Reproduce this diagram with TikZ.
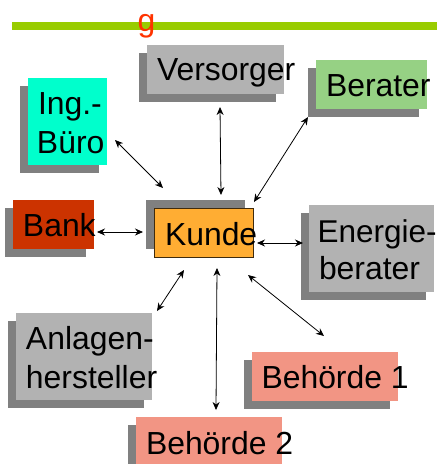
\documentclass[tikz,border=0pt]{standalone}
\usepackage{fontspec}
\setmainfont{Liberation Sans}
\usetikzlibrary{arrows.meta}
\definecolor{shadowgrey}{HTML}{808080}
\definecolor{boxgrey}{HTML}{B2B2B2}
\definecolor{ingcyan}{HTML}{00FFCC}
\definecolor{bankred}{HTML}{CC3300}
\definecolor{kundeorange}{HTML}{FFAD33}
\definecolor{beratergreen}{HTML}{96D184}
\definecolor{salmon}{HTML}{F29584}
\definecolor{barGreen}{HTML}{99CC00}
\definecolor{gred}{HTML}{FF3300}
\tikzset{
  x=1pt,y=-1pt,
  lbl/.style={anchor=base west,inner sep=0pt,outer sep=0pt,align=left,
    font=\fontsize{31.9}{38}\selectfont,text=black},
  link/.style={{Stealth[length=8pt,width=7pt]}-{Stealth[length=8pt,width=7pt]},line width=0.8pt,black},
}
\newcommand{\tbox}[6]{% name, x1, y1, x2, y2, colour
  \path[fill=shadowgrey] (#2-8,#3+8) rectangle (#4-8,#5+8);
  \path[fill=#6] (#2,#3) rectangle (#4,#5);
  \coordinate (#1) at (#2,#3);
}
\begin{document}
\begin{tikzpicture}
\useasboundingbox (0,0) rectangle (437,464);
\clip (0,0) rectangle (437,464);
% title bar
\path[fill=barGreen] (12,22) rectangle (437,30);
\node[lbl,text=gred] (g) at (137.5,31) {g};
% boxes
\tbox{versorger}{147}{45}{284}{94}{boxgrey}
\tbox{berater}{316}{60}{427}{109}{beratergreen}
\tbox{ing}{28}{78}{107}{165}{ingcyan}
\tbox{bank}{13}{200}{94}{249}{bankred}
\tbox{energie}{309}{205}{434}{292}{boxgrey}
\tbox{anlagen}{16}{313}{152}{400}{boxgrey}
\tbox{beh1}{252}{352}{398}{401}{salmon}
\tbox{beh2}{136}{417}{282}{466}{salmon}
% Kunde: shadow up-left, outlined front
\path[fill=shadowgrey] (146,200) rectangle (245,249);
\path[fill=kundeorange,draw=black!75!kundeorange,line width=0.7pt] (154.5,208.5) rectangle (253.5,257.5);
\coordinate (kunde) at (154,208);
% labels
\node[lbl] (tVersorger) at (157,80) {Versorger};
\node[lbl] (tBerater) at (326,96) {Berater};
\node[lbl] (tIng) at (38,114) {Ing.-};
\node[lbl] (tBuero) at (37,153) {Büro};
\node[lbl] (tBank) at (23,236) {Bank};
\node[lbl] (tKunde) at (165,245) {Kunde};
\node[lbl,font=\fontsize{31.5}{38}\selectfont] (tEnergie) at (317.5,242) {Energie-};
\node[lbl] (tBeraterTwo) at (319,279) {berater};
\node[lbl] (tAnlagen) at (26,349) {Anlagen-};
\node[lbl] (tHersteller) at (26,388) {hersteller};
\node[lbl] (tBehA) at (261.5,388) {Behörde 1};
\node[lbl] (tBehB) at (146,454) {Behörde 2};
% connector ends
\coordinate (ingEnd) at (115,140);
\coordinate (kIng) at (163,188);
\coordinate (versEnd) at (220,107);
\coordinate (kVers) at (221,195);
\coordinate (berEnd) at (308,117);
\coordinate (kBer) at (254,202);
\coordinate (bankEnd) at (97,232);
\coordinate (kBank) at (143,232);
\coordinate (kEn) at (257,243);
\coordinate (enEnd) at (303,243);
\coordinate (kAn) at (184,270);
\coordinate (anEnd) at (157,311);
\coordinate (kB2) at (217,268);
\coordinate (b2End) at (216,410);
\coordinate (kB1) at (248,275);
\coordinate (b1End) at (324,336);
% connectors
\draw[link] (ingEnd) -- (kIng);
\draw[link] (versEnd) -- (kVers);
\draw[link] (berEnd) -- (kBer);
\draw[link] (bankEnd) -- (kBank);
\draw[link] (kEn) -- (enEnd);
\draw[link] (kAn) -- (anEnd);
\draw[link] (kB2) -- (b2End);
\draw[link] (kB1) -- (b1End);
\end{tikzpicture}
\end{document}
